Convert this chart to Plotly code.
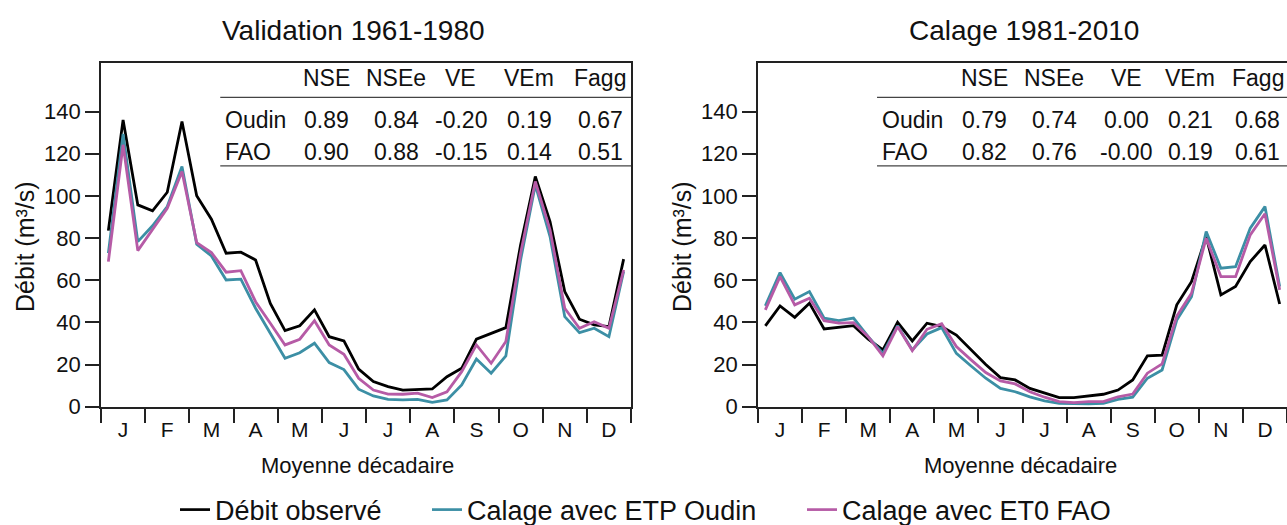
import plotly.graph_objects as go

# Mean flow per ten-day period (36 decades, Jan -> Dec), m3/s
months = ["J", "F", "M", "A", "M", "J", "J", "A", "S", "O", "N", "D"]

val_obs = [83.5, 136, 95.7, 92.9, 101.7, 135.3, 100, 88.9, 72.8, 73.3, 69.6, 49,
           36.1, 38.4, 45.9, 33.2, 31.2, 17.8, 11.9, 9.5, 7.9, 8.2, 8.4, 14.2,
           18.2, 32, 34.8, 37.5, 76.7, 109.2, 87.8, 54.6, 41.5, 38.8, 38, 70]
val_oudin = [72.8, 129.4, 78.3, 85.8, 94.9, 113.9, 77.1, 71.5, 60.1, 60.5, 46.7, 34.8,
             23, 25.6, 30.1, 20.9, 17.6, 8.3, 5.1, 3.5, 3.2, 3.5, 2.1, 3.2,
             10.3, 22.6, 15.9, 24.1, 69.6, 105.2, 80.7, 42.7, 35.1, 37.2, 33.2, 64.1]
val_fao = [68.8, 124.2, 74, 83.9, 94.1, 111.5, 77.8, 73.1, 63.8, 64.5, 49.8, 39.6,
           29.3, 32, 40.8, 29.3, 24.9, 13.5, 7.9, 6, 5.9, 6.4, 4.3, 7.1,
           16.6, 29.3, 20.6, 30.9, 72.8, 106.8, 83.9, 46.7, 37.2, 40.3, 37.2, 64.9]

cal_obs = [38.3, 47.8, 42.4, 49.1, 36.9, 37.7, 38.4, 32, 26.9, 40, 31.2, 39.6,
           38, 34, 26.9, 20, 13.8, 12.7, 8.7, 6.4, 4.3, 4.3, 5.1, 5.9,
           7.9, 12.7, 24.1, 24.5, 48.3, 59.3, 80.7, 53, 57, 68.8, 76.7, 48.7]
cal_oudin = [47.8, 63.6, 51, 54.6, 42, 40.8, 42, 33.2, 25.3, 38.4, 26.9, 34.5,
             37.5, 25.3, 19.3, 13.5, 8.7, 7.1, 4.7, 2.8, 1.6, 1.3, 1.3, 1.6,
             3.5, 4.5, 13.5, 17.4, 41.1, 52.2, 83.1, 65.7, 66.4, 84.7, 94.9, 57]
cal_fao = [45.9, 61.7, 48.3, 51.4, 40.8, 39.6, 39.9, 33.2, 24.1, 38, 26.6, 36.7,
           39.3, 28.5, 22.2, 16.2, 12.2, 10.8, 7.1, 4.5, 2.4, 1.9, 2.4, 2.4,
           4.7, 6, 15.9, 20.3, 43, 53.8, 79.9, 61.7, 61.7, 81.5, 91.5, 55.4]

# Performance criteria tables
crit_names = ["NSE", "NSEe", "VE", "VEm", "Fagg"]
row_names = ["Oudin", "FAO"]
val_scores = [["0.89", "0.84", "-0.20", "0.19", "0.67"],
              ["0.90", "0.88", "-0.15", "0.14", "0.51"]]
cal_scores = [["0.79", "0.74", "0.00", "0.21", "0.68"],
              ["0.82", "0.76", "-0.00", "0.19", "0.61"]]

titles = ["Validation 1961-1980", "Calage 1981-2010"]
series_names = ["Débit observé", "Calage avec ETP Oudin", "Calage avec ET0 FAO"]
colors = ["#000000", "#3C8FA5", "#B65BA6"]

W, H = 1287, 525
FONT = "Liberation Sans, Arial, sans-serif"
decade_x = [i + 0.5 for i in range(36)]
month_centers = [3 * m + 1.5 for m in range(12)]
legend_ids = ["legend", "legend2", "legend3"]
legend_left_px = [175, 427, 802]

fig = go.Figure()

panels = [
    dict(xa="x", ya="y", obs=val_obs, oudin=val_oudin, fao=val_fao, scores=val_scores,
         cols=[15.35, 20.05, 24.45, 29.1, 33.9], dom=(101, 631), title_x=353, xlab_x=357),
    dict(xa="x2", ya="y2", obs=cal_obs, oudin=cal_oudin, fao=cal_fao, scores=cal_scores,
         cols=[15.4, 20.15, 25.05, 29.4, 34.0], dom=(758, 1288), title_x=1024, xlab_x=1020),
]

for k, p in enumerate(panels):
    for s, (ys, name, col) in enumerate(zip([p["obs"], p["oudin"], p["fao"]], series_names, colors)):
        fig.add_trace(go.Scatter(
            x=decade_x, y=ys, mode="lines", name=name,
            line=dict(color=col, width=2.8),
            xaxis=p["xa"], yaxis=p["ya"], showlegend=(k == 0),
            legend=legend_ids[s],
        ))

    # table: header, two rows, rules
    ann = []
    for c, name in zip(p["cols"], crit_names):
        ann.append(dict(x=c, y=156, text=name, xanchor="center", yanchor="middle"))
    for r, (rn, row) in enumerate(zip(row_names, p["scores"])):
        yy = 136 - r * 15.3
        ann.append(dict(x=8.3, y=yy, text=rn, xanchor="left", yanchor="middle"))
        for c, v in zip(p["cols"], row):
            ann.append(dict(x=c, y=yy, text=v, xanchor="center", yanchor="middle"))
    for a in ann:
        fig.add_annotation(xref=p["xa"], yref=p["ya"], showarrow=False,
                           font=dict(family=FONT, size=23, color="#111"), **a)
    for yl in (146.7, 114.2):
        fig.add_shape(type="line", xref=p["xa"], yref=p["ya"], x0=8.1, x1=36, y0=yl, y1=yl,
                      line=dict(color="#444", width=1.2))

    fig.add_annotation(xref="paper", yref="paper", x=p["title_x"] / W, y=1 - 30 / H,
                       text=titles[k], showarrow=False, xanchor="center", yanchor="middle",
                       font=dict(family=FONT, size=28, color="#111"))
    fig.add_annotation(xref="paper", yref="paper", x=p["xlab_x"] / W, y=1 - 465 / H,
                       text="Moyenne décadaire", showarrow=False, xanchor="center", yanchor="middle",
                       font=dict(family=FONT, size=22, color="#111"))
    fig.add_annotation(xref="paper", yref="paper", x=(25 if k == 0 else 682) / W, y=1 - 247 / H,
                       text="Débit (m³/s)", showarrow=False, textangle=-90,
                       xanchor="center", yanchor="middle",
                       font=dict(family=FONT, size=25, color="#111"))

axis_line = dict(showline=True, linecolor="#222", linewidth=1.6, mirror=True,
                 showgrid=False, zeroline=False)

for k, p in enumerate(panels):
    sfx = "" if k == 0 else "2"
    d0, d1 = p["dom"]
    fig.update_layout(**{
        "xaxis" + sfx: dict(
            axis_line, domain=[d0 / W, min(d1 / W, 1.0)], range=[0, 36],
            tickmode="array", tickvals=month_centers, ticktext=months,
            ticks="outside", ticklen=3, tickcolor="rgba(0,0,0,0)",
            tickfont=dict(family=FONT, size=21, color="#111"),
            minor=dict(tick0=0, dtick=3, ticks="outside", ticklen=14,
                       tickcolor="#222", tickwidth=1.6),
            anchor="y" + sfx,
        ),
        "yaxis" + sfx: dict(
            axis_line, domain=[1 - 406.7 / H, 1 - 63 / H], range=[0, 163],
            tickmode="array", tickvals=list(range(0, 141, 20)),
            ticks="outside", ticklen=14, tickcolor="#222", tickwidth=1.6,
            tickfont=dict(family=FONT, size=22, color="#111"),
            anchor="x" + sfx,
        ),
    })

legend_style = dict(orientation="h", yanchor="middle", xanchor="left", y=1 - 510 / H,
                    font=dict(family=FONT, size=27, color="#111"), itemwidth=30,
                    bgcolor="rgba(0,0,0,0)")
fig.update_layout(
    width=W, height=H,
    margin=dict(l=0, r=0, t=0, b=0, autoexpand=False),
    paper_bgcolor="white", plot_bgcolor="white",
    font=dict(family=FONT, color="#111"),
    showlegend=True,
    **{lid: dict(legend_style, x=px / W) for lid, px in zip(legend_ids, legend_left_px)},
)

fig.write_html("out.html")
